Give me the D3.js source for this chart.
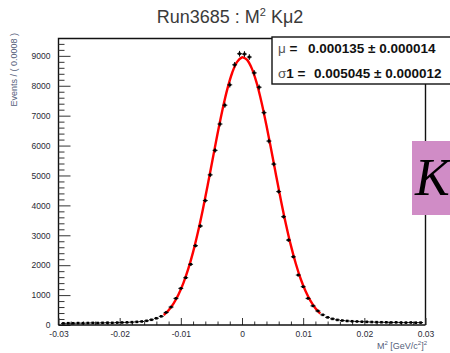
<!DOCTYPE html>
<html><head><meta charset="utf-8">
<script src="https://cdn.jsdelivr.net/npm/d3@7"></script>
<style>html,body{margin:0;padding:0;background:#fff;}svg{display:block;}</style>
</head><body>
<script>
// ---- data ----
const titleText = "Run3685 : M";
const binCenters = [
 -0.0292,-0.0284,-0.0276,-0.0268,-0.0260,-0.0252,-0.0244,-0.0236,-0.0228,-0.0220,
 -0.0212,-0.0204,-0.0196,-0.0188,-0.0180,-0.0172,-0.0164,-0.0156,-0.0148,-0.0140,
 -0.0132,-0.0124,-0.0116,-0.0108,-0.0100,-0.0092,-0.0084,-0.0076,-0.0068,-0.0060,
 -0.0052,-0.0044,-0.0036,-0.0028,-0.0020,-0.0012,-0.0004,
  0.0004, 0.0012, 0.0020, 0.0028, 0.0036, 0.0044, 0.0052, 0.0060, 0.0068, 0.0076,
  0.0084, 0.0092, 0.0100, 0.0108, 0.0116, 0.0124, 0.0132, 0.0140, 0.0148, 0.0156,
  0.0164, 0.0172, 0.0180, 0.0188, 0.0196, 0.0204, 0.0212, 0.0220, 0.0228, 0.0236,
  0.0244, 0.0252, 0.0260, 0.0268, 0.0276, 0.0284, 0.0292];
const counts = [
 55,60,58,64,60,66,70,66,72,75,
 72,80,84,88,95,105,118,140,175,225,
 290,420,600,890,1225,1580,2030,2650,3310,4160,
 5020,5840,6720,7350,8030,8700,9070,
 9060,8960,8430,7950,7100,6150,5380,4460,3620,2840,
 2280,1670,1280,890,640,470,340,255,205,170,
 150,135,125,118,110,105,100,95,92,90,
 85,88,82,80,84,78,80];
const binWidth = 0.0008;
const fitX = [-0.0128,-0.0120,-0.0112,-0.0104,-0.0096,-0.0088,-0.0080,-0.0072,-0.0064,-0.0056,
 -0.0048,-0.0040,-0.0032,-0.0024,-0.0016,-0.0008,0.0000,0.00014,0.0008,0.0016,0.0024,0.0032,
 0.0040,0.0048,0.0056,0.0064,0.0072,0.0080,0.0088,0.0096,0.0104,0.0112,0.0120,0.0128];
const fitY = [334,496,717,1011,1391,1865,2438,3109,3866,4688,
 5544,6393,7193,7889,8436,8798,8947,8950,8873,8581,8092,7442,
 6669,5834,4975,4133,3355,2654,2047,1539,1129,807,563,383];
const xTicks = [-0.03,-0.02,-0.01,0,0.01,0.02,0.03];
const xTickLabels = ["-0.03","-0.02","-0.01","0","0.01","0.02","0.03"];
const yTicks = [0,1000,2000,3000,4000,5000,6000,7000,8000,9000];
const statNames = ["\u03bc", "\u03c31"];
const statLines = ["0.000135 \u00b1 0.000014","0.005045 \u00b1 0.000012"];

// ---- drawing ----
const W=450,H=353;
const svg=d3.select("body").append("svg").attr("width",W).attr("height",H);
const x=d3.scaleLinear().domain([-0.03,0.03]).range([58.5,425.5]);
const y=d3.scaleLinear().domain([0,9580]).range([325,38.5]);
const font="'Liberation Sans', Arial, sans-serif";
const txtCol="#2a2a35";

// title
const t=svg.append("text").attr("x",230).attr("y",23).attr("text-anchor","middle")
 .attr("font-family",font).attr("font-size",18).attr("fill","#3a3a3a");
t.append("tspan").text(titleText);
t.append("tspan").attr("font-size",11).attr("dy",-7).text("2");
t.append("tspan").attr("dy",7).text(" K\u03bc2");

// frame
svg.append("path").attr("d",`M${x(-0.03)},${y(0)}V38.5H425.5V${y(0)}`).attr("fill","none")
 .attr("stroke","#111").attr("stroke-width",1.4);

// y axis
const yMinor=d3.range(0,9600,200).filter(v=>v%1000!==0);
const gy=svg.append("g").attr("transform",`translate(${x(-0.03)},0)`);
gy.call(d3.axisLeft(y).tickValues(yMinor).tickSize(-6).tickFormat(""));
const gy2=svg.append("g").attr("transform",`translate(${x(-0.03)},0)`);
gy2.call(d3.axisLeft(y).tickValues(yTicks).tickSize(-12).tickPadding(8).tickFormat(d3.format("d")));
svg.selectAll("g .domain").remove();
gy2.selectAll("text").attr("font-family",font).attr("font-size",8.5).attr("fill",txtCol);

// x axis
const xMinor=d3.range(-0.03,0.0301,0.002).filter(v=>Math.abs(Math.round(v*100)-v*100)>1e-6);
const gx=svg.append("g").attr("transform",`translate(0,${y(0)})`);
gx.call(d3.axisBottom(x).tickValues(xMinor).tickSize(-3.5).tickFormat(""));
const gx2=svg.append("g").attr("transform",`translate(0,${y(0)})`);
gx2.call(d3.axisBottom(x).tickValues(xTicks).tickSize(-7).tickPadding(4).tickFormat((d,i)=>xTickLabels[i]));
svg.selectAll("g .domain").remove();
gx2.selectAll("text").attr("font-family",font).attr("font-size",8.5).attr("fill",txtCol).attr("dy","0.9em");
svg.selectAll(".tick line").attr("stroke","#333");
svg.append("line").attr("x1",x(-0.03)).attr("x2",x(0.03)).attr("y1",y(0)).attr("y2",y(0)).attr("stroke","#111").attr("stroke-width",1.6);

// axis titles
svg.append("text").attr("transform","translate(17,33) rotate(-90)").attr("text-anchor","end")
 .attr("font-family",font).attr("font-size",9).attr("fill","#55607a").text("Events / ( 0.0008 )");
const xt=svg.append("text").attr("x",427).attr("y",349).attr("text-anchor","end")
 .attr("font-family",font).attr("font-size",9).attr("fill","#55607a");
xt.append("tspan").text("M");
xt.append("tspan").attr("font-size",6).attr("dy",-4).text("2");
xt.append("tspan").attr("dy",4).text(" [GeV/c");
xt.append("tspan").attr("font-size",6).attr("dy",-4).text("2");
xt.append("tspan").attr("dy",4).text("]");
xt.append("tspan").attr("font-size",6).attr("dy",-4).text("2");

// fit curve
const line=d3.line().x((d,i)=>x(fitX[i])).y(d=>y(d)).curve(d3.curveCatmullRom);
svg.append("path").attr("d",line(fitY)).attr("fill","none").attr("stroke","#ff0000").attr("stroke-width",2.4);

// data points
const pts=svg.append("g");
counts.forEach((c,i)=>{
  const cx=x(binCenters[i]), cy=y(c), e=Math.sqrt(c);
  pts.append("line").attr("x1",x(binCenters[i]-binWidth/2)).attr("x2",x(binCenters[i]+binWidth/2))
    .attr("y1",cy).attr("y2",cy).attr("stroke","#000").attr("stroke-width",1);
  pts.append("line").attr("x1",cx).attr("x2",cx).attr("y1",y(c-e)).attr("y2",y(c+e))
    .attr("stroke","#000").attr("stroke-width",1);
  pts.append("rect").attr("x",cx-1.3).attr("y",cy-1.3).attr("width",2.6).attr("height",2.6).attr("fill","#000");
});

// stats box
svg.append("rect").attr("x",272).attr("y",37).attr("width",190).attr("height",47)
 .attr("fill","#fff").attr("stroke","#111").attr("stroke-width",1.4);
const s1=svg.append("text").attr("x",278).attr("y",53).attr("font-family",font).attr("font-size",13.5);
s1.append("tspan").attr("fill","#555").text(statNames[0]);
s1.append("tspan").attr("font-weight","bold").attr("fill","#111").text(" =");
svg.append("text").attr("x",308).attr("y",53).attr("font-family",font).attr("font-size",13.5)
 .attr("font-weight","bold").attr("fill","#111").text(statLines[0]);
const s2=svg.append("text").attr("x",278).attr("y",78).attr("font-family",font).attr("font-size",13.5);
s2.append("tspan").attr("fill","#555").text(statNames[1].charAt(0));
s2.append("tspan").attr("font-weight","bold").attr("fill","#111").text(statNames[1].slice(1)+" =");
svg.append("text").attr("x",314).attr("y",78).attr("font-family",font).attr("font-size",13.5)
 .attr("font-weight","bold").attr("fill","#111").text(statLines[1]);

// pink K box
svg.append("rect").attr("x",412).attr("y",141).attr("width",50).attr("height",74).attr("fill","#d08cc6");
svg.append("text").attr("x",415).attr("y",195).attr("font-family","'Liberation Serif','Times New Roman',serif")
 .attr("font-style","italic").attr("font-size",52).attr("fill","#000").text("K");
</script>
</body></html>
